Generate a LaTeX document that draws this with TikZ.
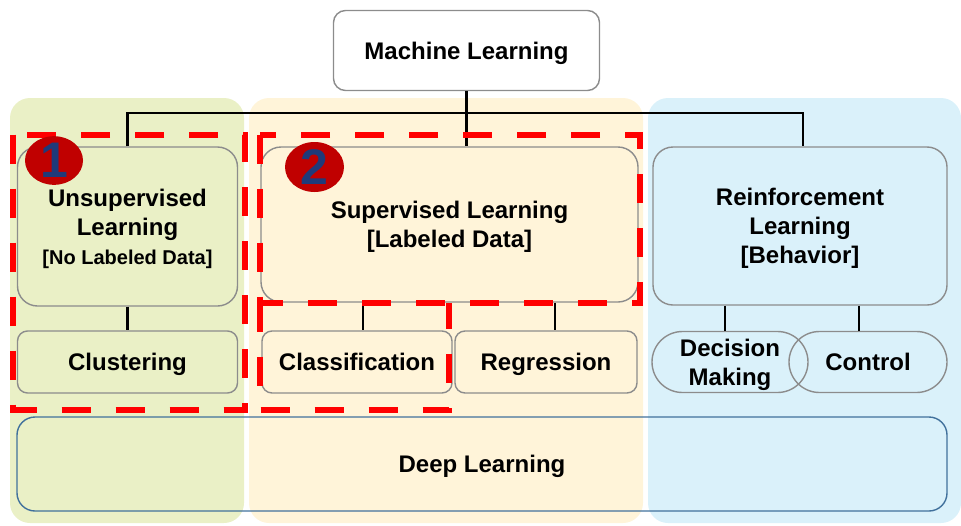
\documentclass[tikz,border=0pt]{standalone}
\usepackage{fontspec}
\setmainfont{Liberation Sans}
\usetikzlibrary{shapes.geometric}

\definecolor{panelgreen}{HTML}{EAF0C6}
\definecolor{panelyellow}{HTML}{FFF4D9}
\definecolor{panelblue}{HTML}{DAF1FA}
\definecolor{boxgray}{HTML}{8C8C8C}
\definecolor{dlblue}{HTML}{41719C}
\definecolor{badgered}{HTML}{C00000}
\definecolor{badgeblue}{HTML}{1F3A7A}

\begin{document}
\begin{tikzpicture}[x=1pt,y=-1pt,
  panel/.style={rounded corners=20pt},
  box/.style={draw=boxgray, line width=1.4pt, rounded corners=#1, inner sep=0pt,
    text depth=0pt, align=center, font=\fontsize{24}{29}\selectfont\bfseries},
  box/.default=10pt,
  pill/.style={box=30.5pt},
  edge/.style={line width=2.5pt, black},
  focus/.style={draw=red, line width=6pt, dash pattern=on 29pt off 25pt},
  badge/.style={ellipse, fill=badgered, inner sep=0pt, text=badgeblue,
    font=\fontsize{50}{50}\selectfont\bfseries}
]
\useasboundingbox (0,0) rectangle (961,525);

% background panels
\fill[panel, panelgreen]  (10,98)  rectangle (244,523);
\fill[panel, panelyellow] (249,98) rectangle (643,523);
\fill[panel, panelblue]   (648,98) rectangle (961,523);

% root
\node[box=12pt, fill=white, minimum width=266, minimum height=80] (ml) at (466.5,50.5) {Machine Learning};

% learning paradigms
\node[box=20pt, fill=panelgreen, minimum width=220, minimum height=159] (unsup) at (127.5,226.5)
  {Unsupervised\\Learning\\{\fontsize{20}{28}\selectfont [No Labeled Data]}};
\node[box=20pt, fill=panelyellow, minimum width=377, minimum height=155] (sup) at (449.5,224.5)
  {Supervised Learning\\{}[Labeled Data]};
\node[box=20pt, fill=panelblue, minimum width=294, minimum height=158] (rl) at (800,226)
  {Reinforcement\\Learning\\{}[Behavior]};

% tasks
\node[box, fill=panelgreen, minimum width=220, minimum height=62] (clust) at (127.5,362) {Clustering};
\node[box, fill=panelyellow, minimum width=190, minimum height=62] (class) at (357,362) {Classification};
\node[box, fill=panelyellow, minimum width=182, minimum height=62] (regr) at (546,362) {Regression};
\node[pill, minimum width=156, minimum height=61] (dec) at (730,362) {Decision\\Making};
\node[pill, minimum width=158, minimum height=61] (ctrl) at (868,362) {Control};

% deep learning band
\node[draw=dlblue, line width=1.4pt, rounded corners=18pt, minimum width=930, minimum height=94,
  inner sep=0pt, text depth=0pt, font=\fontsize{24}{29}\selectfont\bfseries] (dl) at (482,464) {Deep Learning};

% tree connectors
\coordinate (bus) at (466.5,113);
\draw[edge] (ml.south) -- (bus);
\draw[edge] (unsup.north) |- (bus) -| ([xshift=3pt]rl.north);
\draw[edge] (bus) -- (bus |- sup.north);
\draw[edge] (unsup.south) -- (clust.north);
\draw[edge] (363,0 |- sup.south) -- (363,0 |- class.north);
\draw[edge] (555,0 |- sup.south) -- (555,0 |- regr.north);
\draw[edge] (725,0 |- rl.south) -- (725,0 |- dec.north);
\draw[edge] (859,0 |- rl.south) -- (859,0 |- ctrl.north);

% highlighted groups
\draw[focus] (13,134.5) rectangle (245,410);
\draw[focus] (260,134.5) rectangle (640,302.5);
\draw[focus] (260,302.5) -- (260,410) -- (449,410) -- (449,302.5);

% group badges
\node[badge, minimum width=58, minimum height=47] (b1) at (54,160.5) {1};
\node[badge, minimum width=59, minimum height=50] (b2) at (314.5,167) {2};
\end{tikzpicture}
\end{document}
